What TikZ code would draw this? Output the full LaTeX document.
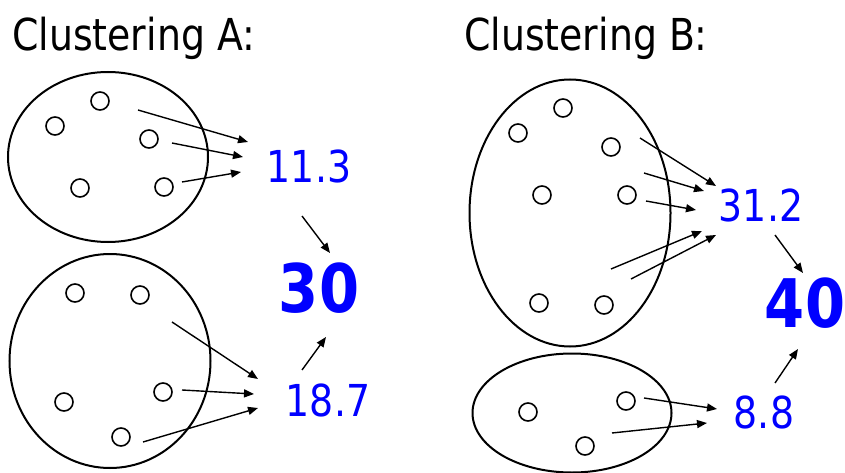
\documentclass[tikz,border=0pt]{standalone}
\usepackage{fontspec}
\setmainfont[FakeStretch=0.86]{DejaVu Sans}
\usetikzlibrary{shapes.geometric,arrows.meta}
\definecolor{numblue}{RGB}{0,0,255}
\tikzset{
  cluster/.style={draw,ellipse,line width=2pt,inner sep=0pt},
  pt/.style={draw,circle,line width=1.6pt,minimum size=18pt,inner sep=0pt},
  link/.style={line width=1.4pt,-{Triangle[length=10pt,width=8pt]}},
  title/.style={anchor=base west,inner sep=0pt,font=\fontsize{44}{50}\selectfont},
  val/.style={inner sep=0pt,text=numblue,font=\fontsize{44}{50}\selectfont},
  total/.style={inner sep=0pt,text=numblue,font=\fontsize{67}{70}\selectfont\bfseries}
}
\begin{document}
\begin{tikzpicture}[x=1pt,y=-1pt]
\useasboundingbox (0,0) rectangle (845,473);
% titles
\node[title] (tA) at (12,51) {Clustering A:};
\node[title] (tB) at (464,51) {Clustering B:};
% clusters
\node[cluster,minimum width=200pt,minimum height=170pt] (eA1) at (108,157) {};
\node[cluster,minimum width=201pt,minimum height=214pt] (eA2) at (110,361) {};
\node[cluster,minimum width=201pt,minimum height=267pt] (eB1) at (570,213) {};
\node[cluster,minimum width=199pt,minimum height=119pt] (eB2) at (572,413) {};
% points A1
\node[pt] (a1) at (100,101) {};
\node[pt] (a2) at (55,126) {};
\node[pt] (a3) at (149,139) {};
\node[pt] (a4) at (80,188) {};
\node[pt] (a5) at (164,187) {};
% points A2
\node[pt] (a6) at (75,293) {};
\node[pt] (a7) at (140,295) {};
\node[pt] (a8) at (163,392) {};
\node[pt] (a9) at (64,402) {};
\node[pt] (a10) at (121,437) {};
% points B1
\node[pt] (b1) at (563,108) {};
\node[pt] (b2) at (518,133) {};
\node[pt] (b3) at (611,147) {};
\node[pt] (b4) at (542,195) {};
\node[pt] (b5) at (627,195) {};
\node[pt] (b6) at (539,303) {};
\node[pt] (b7) at (604,305) {};
% points B2
\node[pt] (b8) at (528,412) {};
\node[pt] (b9) at (626,401) {};
\node[pt] (b10) at (585,446) {};
% values
\node[val] (v1) at (309,166) {11.3};
\node[val] (v2) at (328,400) {18.7};
\node[val] (v3) at (761,205) {31.2};
\node[val] (v4) at (764,412) {8.8};
\node[total] (tot1) at (319,288) {30};
\node[total] (tot2) at (805,303) {40};
% arrow coordinates
\coordinate (s1) at (138,110); \coordinate (e1) at (248,142);
\coordinate (s2) at (172,143); \coordinate (e2) at (243,157);
\coordinate (s3) at (182,182); \coordinate (e3) at (241,172);
\coordinate (s4) at (172,322); \coordinate (e4) at (258,379);
\coordinate (s5) at (182,390); \coordinate (e5) at (254,394);
\coordinate (s6) at (143,442); \coordinate (e6) at (258,408);
\coordinate (s7) at (302,216); \coordinate (e7) at (330,253);
\coordinate (s8) at (302,370); \coordinate (e8) at (326,337);
\coordinate (s9) at (640,138); \coordinate (e9) at (716,186);
\coordinate (s10) at (644,173); \coordinate (e10) at (704,191);
\coordinate (s11) at (646,201); \coordinate (e11) at (696,210);
\coordinate (s12) at (611,269); \coordinate (e12) at (702,231);
\coordinate (s13) at (631,279); \coordinate (e13) at (716,235);
\coordinate (s14) at (775,235); \coordinate (e14) at (803,273);
\coordinate (s15) at (644,398); \coordinate (e15) at (717,409);
\coordinate (s16) at (612,433); \coordinate (e16) at (707,423);
\coordinate (s17) at (775,383); \coordinate (e17) at (798,349);
\foreach \i in {1,...,17} \draw[link] (s\i) -- (e\i);
\end{tikzpicture}
\end{document}
